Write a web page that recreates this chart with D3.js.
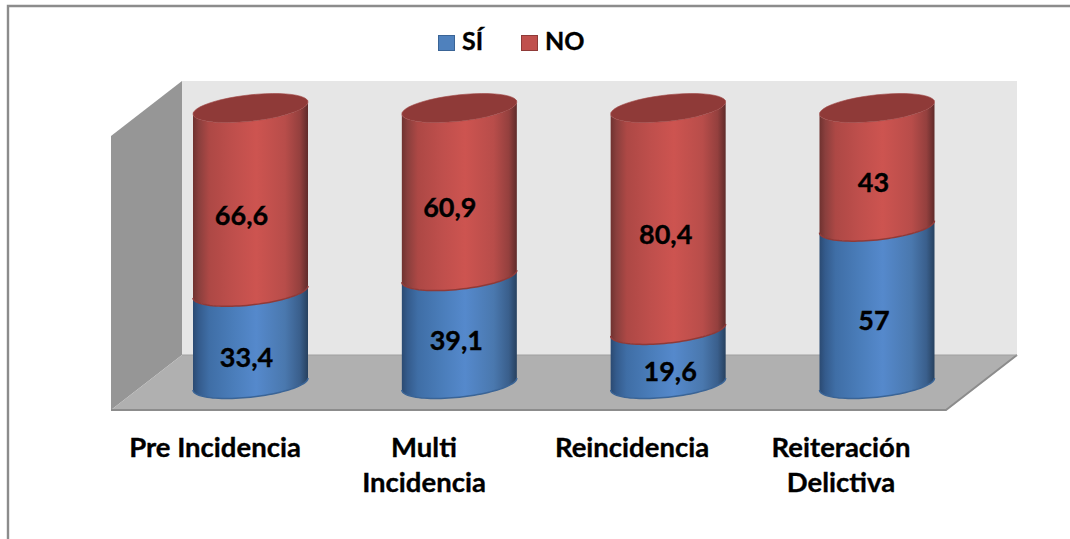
<!DOCTYPE html>
<html><head><meta charset="utf-8">
<script src="https://cdn.jsdelivr.net/npm/d3@7"></script>
<style>html,body{margin:0;padding:0;background:#fff}svg{display:block}text{font-family:Lato,"Noto Sans",sans-serif;font-weight:700;fill:#000;stroke:#000;stroke-width:.35px}</style>
</head><body><svg id="c" width="1070" height="539"></svg>
<script>
const categories = [["Pre Incidencia"],["Multi","Incidencia"],["Reincidencia"],["Reiteración","Delictiva"]];
const keys = ["Pre","Multi","Rein","Reit"];
const si = [33.4,39.1,19.6,57];
const no = [66.6,60.9,80.4,43];
const siLabels = ["33,4","39,1","19,6","57"];
const noLabels = ["66,6","60,9","80,4","43"];
const svg = d3.select("#c");
const y = d3.scaleLinear().domain([0,100]).range([384,108]);
const cxScale = d3.scalePoint().domain(keys).range([250.5,877]);
const a = 57.5, skew = -6, b = 13.2;
const defs = svg.append("defs");
function grad(id,stops){
  const g=defs.append("linearGradient").attr("id",id).attr("x1",0).attr("x2",1).attr("y1",0).attr("y2",0);
  stops.forEach(s=>g.append("stop").attr("offset",s[0]).attr("stop-color",s[1]));
}
grad("gr",[[0,"#6f3230"],[.05,"#8a3f3d"],[.14,"#ad4845"],[.35,"#bf4f4c"],[.55,"#cd5450"],[.8,"#b84d4a"],[.93,"#94403e"],[1,"#5f2b2a"]]);
grad("gb",[[0,"#2b4a72"],[.05,"#345b8c"],[.14,"#3f6ea6"],[.35,"#4a7dba"],[.55,"#5589cc"],[.8,"#4a78ae"],[.93,"#3a5f8c"],[1,"#27415f"]]);
// frame (open on the right and bottom, top line runs off the page)
svg.append("path").attr("d","M8,539V6H1070").attr("fill","none").attr("stroke","#8c8c8c").attr("stroke-width",2.4);
// walls
const L=111,R=946,T=81,B=355;
const poly=(pts,f)=>svg.append("polygon").attr("points",pts.map(p=>p.join(",")).join(" ")).attr("fill",f);
poly([[182,T],[1017,T],[1017,B],[182,B]],"#e6e6e6");
poly([[L,136],[182,T],[182,B],[L,410]],"#969696");
poly([[182,B],[1017,B],[R,410],[L,410]],"#b0b0b0");
svg.append("path").attr("d",`M${L},410H${R}L1017,${B}`).attr("fill","none").attr("stroke","#8c8c8c").attr("stroke-width",2);
svg.append("path").attr("d",`M182,${B}H1017`).attr("fill","none").attr("stroke","#a0a0a0").attr("stroke-width",1);
// cylinders
const pt=(c,yc,t)=>[c+a*Math.cos(t),yc+skew*Math.cos(t)+b*Math.sin(t)];
const line=d3.line();
const arc=(c,yc,from,to)=>d3.range(0,49).map(i=>pt(c,yc,from+(to-from)*i/48));
function seg(c,v0,v1,fill,stroke){
  const y0=y(v0),y1=y(v1);
  const pts=arc(c,y0,Math.PI,0).concat(arc(c,y1,0,Math.PI));
  svg.append("path").attr("d",line(pts)+"Z").attr("fill",`url(#${fill})`);
  svg.append("path").attr("d",line(arc(c,y0,Math.PI,0))).attr("fill","none").attr("stroke",stroke).attr("stroke-width",1.5);
}
const siNudge=[[-4,5],[-3,-4],[2,0],[-3,1]];
const noNudge=[-9,-9.5,-2.5,-3.5];
const catX=[215,424,632,841];
keys.forEach((k,i)=>{
  const c=cxScale(k);
  seg(c,0,si[i],"gb","#3a6496");
  seg(c,si[i],100,"gr","#8f3a38");
  svg.append("path").attr("d",line(arc(c,y(100),0,2*Math.PI))+"Z").attr("fill","#8f3a38").attr("stroke","#a04543").attr("stroke-width",.6);
  svg.append("text").attr("x",c+siNudge[i][0]).attr("y",y(si[i]/2)+24+siNudge[i][1]).attr("text-anchor","middle").attr("font-size",27).text(siLabels[i]);
  svg.append("text").attr("x",c+noNudge[i]).attr("y",y(si[i]+no[i]/2)+25).attr("text-anchor","middle").attr("font-size",27).text(noLabels[i]);
  categories[i].forEach((l,j)=>svg.append("text").attr("x",catX[i]).attr("y",457+j*35).attr("text-anchor","middle").attr("font-size",27.5).text(l));
});
// legend
const legend=[["SÍ","#4f81bd","#3a6496",438,462],["NO","#c0504d","#8f3a38",521,545]];
legend.forEach(d=>{
  svg.append("rect").attr("x",d[3]+.5).attr("y",35.5).attr("width",16).attr("height",15).attr("fill",d[1]).attr("stroke",d[2]);
  svg.append("text").attr("x",d[4]).attr("y",50).attr("font-size",25).text(d[0]);
});
</script></body></html>
